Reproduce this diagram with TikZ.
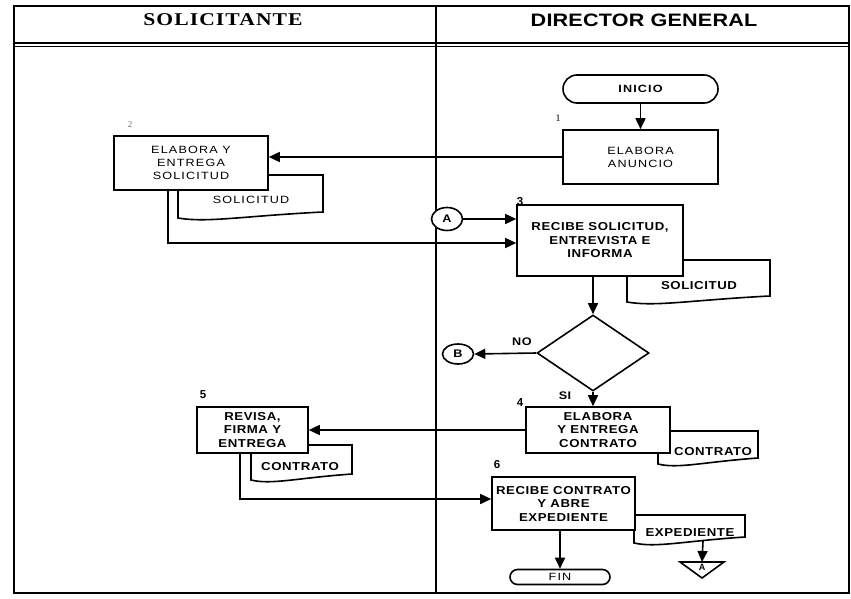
\documentclass[tikz,border=0pt]{standalone}
\usepackage{fontspec}
\setmainfont{Liberation Sans}
\newfontfamily\headsans{Liberation Sans}[FakeStretch=1.2,LetterSpace=1]
\newfontfamily\headserif{Liberation Serif}[FakeStretch=1.2,LetterSpace=6]
\newfontfamily\bodysans{Liberation Sans}[FakeStretch=1.15,LetterSpace=5]
\newfontfamily\widesans{Liberation Sans}[FakeStretch=1.2,LetterSpace=11]
\newfontfamily\numserif{Liberation Serif}
\usetikzlibrary{arrows.meta,shapes.geometric,shapes.misc}

% document symbol: rectangle with a wavy lower edge
\newcommand\docshape[4]{%
  \draw[docline] (#1,#2) -- (#3,#2) -- (#3,#4-6)
    .. controls ({#1+0.45*(#3-#1)},{#4-2}) and ({#1+0.2*(#3-#1)},{#4+5}) .. (#1,#4) -- cycle;}

\begin{document}
\begin{tikzpicture}[x=1pt,y=-1pt,
  lw/.style={line width=1.6pt},
  box/.style={draw, lw, fill=white, inner sep=0pt, align=center},
  bodytxt/.style={font=\fontsize{11.5}{13.5}\selectfont\bodysans\bfseries},
  widetxt/.style={font=\fontsize{10.5}{13}\selectfont\widesans},
  term/.style={draw, rounded rectangle, lw, fill=white, inner sep=0pt},
  conn/.style={draw, ellipse, lw, fill=white, inner sep=0pt,
    font=\fontsize{11}{11}\selectfont\bodysans\bfseries},
  flow/.style={lw, -{Triangle[length=11pt,width=10pt]}},
  docline/.style={draw, lw, fill=white},
  steplbl/.style={font=\fontsize{11.5}{11.5}\selectfont\bfseries, inner sep=0pt},
  doclbl/.style={bodytxt, inner sep=0pt}]

\useasboundingbox (0,0) rectangle (851,599);

% ---- swimlane frame ----
\draw[line width=1.8pt] (14,6) rectangle (849,593);
\draw[line width=2.4pt] (14,6) -- (849,6);
\draw[line width=1.3pt] (14,43) -- (849,43);
\draw[line width=0.9pt] (14,46.5) -- (849,46.5);
\draw[line width=1.6pt] (436,6) -- (436,593);
\node[font=\fontsize{18}{18}\selectfont\headserif\bfseries] (hsol) at (223,20) {SOLICITANTE};
\node[font=\fontsize{18}{18}\selectfont\headsans\bfseries] (hdir) at (644,20) {DIRECTOR GENERAL};

% ---- documents (drawn first, boxes overlap them) ----
\docshape{178}{175}{323}{218}
\node[widetxt, inner sep=0pt] (d2) at (251,200) {SOLICITUD};
\docshape{627}{260}{770}{302}
\node[doclbl] (d3) at (699,286) {SOLICITUD};
\docshape{658}{431}{758}{464}
\node[doclbl] (d4) at (713,452) {CONTRATO};
\docshape{251}{445}{352}{480}
\node[doclbl] (d5) at (300,467) {CONTRATO};
\docshape{634}{515}{745}{543}
\node[doclbl] (d6) at (690,533) {EXPEDIENTE};
\coordinate (d6b) at (703,541);

% ---- process boxes ----
\node[term, font=\fontsize{10.5}{12}\selectfont\widesans\bfseries,
  minimum width=155pt, minimum height=28pt] (ini) at (640.5,89) {INICIO};
\node[box, widetxt, minimum width=155pt, minimum height=54pt] (n1) at (640.5,157) {ELABORA\\ANUNCIO};
\node[box, widetxt, minimum width=154pt, minimum height=54pt] (n2) at (191,163) {ELABORA Y\\ENTREGA\\SOLICITUD};
\node[box, bodytxt, minimum width=166pt, minimum height=71pt] (n3) at (600,240.5) {RECIBE SOLICITUD,\\ENTREVISTA E\\INFORMA};
\node[draw, diamond, lw, fill=white, inner sep=0pt,
  minimum width=112pt, minimum height=76pt] (dia) at (593,353) {};
\node[box, bodytxt, minimum width=144pt, minimum height=46pt] (n4) at (598,430) {ELABORA\\Y ENTREGA\\CONTRATO};
\node[box, bodytxt, minimum width=111pt, minimum height=46pt] (n5) at (252.5,430) {REVISA,\\FIRMA Y\\ENTREGA};
\node[box, bodytxt, minimum width=143pt, minimum height=53pt] (n6) at (563.5,503.5) {RECIBE CONTRATO\\Y ABRE\\EXPEDIENTE};
\node[term, widetxt, minimum width=100pt, minimum height=15pt] (fin) at (560,577) {FIN};

% ---- connectors ----
\node[conn, minimum width=31pt, minimum height=23pt] (ca) at (447,219) {A};
\node[conn, minimum width=31pt, minimum height=20pt] (cb) at (458,354) {B};

% off-page connector
\coordinate (offtop) at (702,562);
\draw[lw, fill=white] (680,562) -- (724,562) -- (702,578) -- cycle;
\node[font=\fontsize{9}{9}\selectfont\bfseries, inner sep=0pt] (offA) at (702,567.5) {A};

% ---- step numbers and labels ----
\node[font=\fontsize{10}{10}\selectfont\numserif, inner sep=0pt] (s1) at (558,118) {1};
\node[font=\fontsize{9}{9}\selectfont\numserif, text=black!55, inner sep=0pt] (s2) at (130,125) {2};
\node[steplbl] (s3) at (520,202) {3};
\node[steplbl] (s4) at (520,403) {4};
\node[steplbl] (s5) at (203,395) {5};
\node[steplbl] (s6) at (497,465) {6};
\node[steplbl, font=\fontsize{11}{11}\selectfont\bodysans\bfseries] (lno) at (522,342) {NO};
\node[steplbl, font=\fontsize{11}{11}\selectfont\bodysans\bfseries] (lsi) at (565,396) {SI};

% ---- flow lines ----
\coordinate (b2) at (168,243);
\coordinate (b5) at (240,499);
\draw[flow] (ini.south) -- (n1.north);
\draw[flow] (n1.west) -- (n1.west -| n2.east);
\draw[flow] (n2.south -| b2) -- (b2) -- (b2 -| n3.west);
\draw[flow] (ca.east) -- (ca.east -| n3.west);
\draw[flow] (n3.south -| dia.north) -- (dia.north);
\draw[flow] (dia.west) -- (cb.east);
\draw[flow] (dia.south) -- (dia.south |- n4.north);
\draw[flow] (n4.west) -- (n4.west -| n5.east);
\draw[flow] (n5.south -| b5) -- (b5) -- (b5 -| n6.west);
\draw[flow] (n6.south -| fin.north) -- (fin.north);
\draw[flow] (d6b) -- (offtop);

\end{tikzpicture}
\end{document}
